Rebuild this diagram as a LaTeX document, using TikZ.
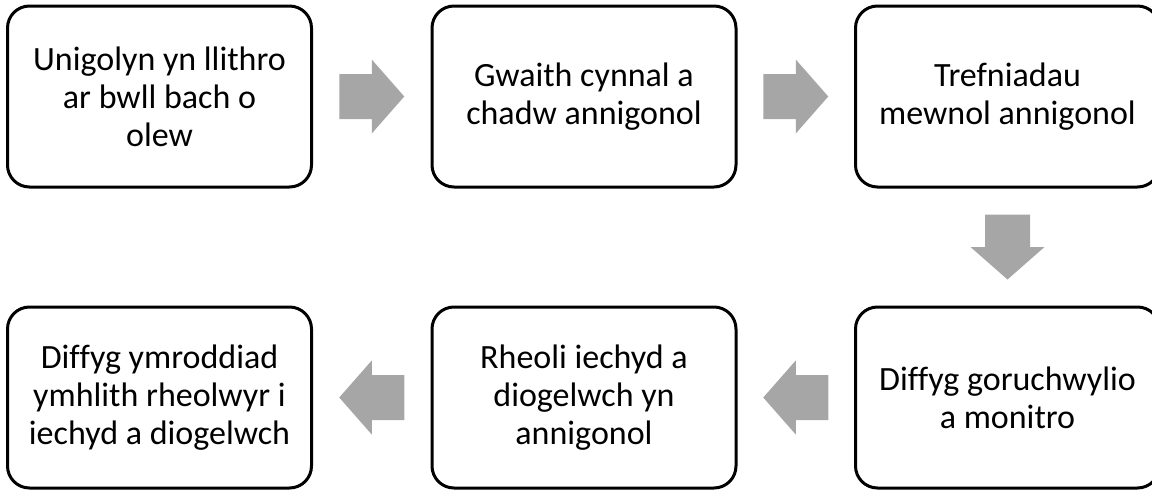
\documentclass[tikz,border=0pt]{standalone}
\usepackage{fontspec}
\setmainfont{Carlito}[Ligatures=NoCommon]
\usetikzlibrary{calc}
\definecolor{arrowgray}{HTML}{A6A6A6}
\tikzset{
  stepbox/.style={draw=black, line width=3pt, rounded corners=22pt, fill=white,
    minimum width=304pt, minimum height=181pt, inner sep=0pt, align=center,
    font=\fontsize{34}{38}\selectfont, text=black},
  garrow/.pic={\fill[arrowgray] (-32.5,-22.5) -- (0,-22.5) -- (0,-37) -- (32.5,0) -- (0,37) -- (0,22.5) -- (-32.5,22.5) -- cycle;}
}
\begin{document}
\begin{tikzpicture}[x=1pt, y=-1pt]
\useasboundingbox (0,0) rectangle (1152,490);
\node[stepbox] (b1) at (159.5,96.5) {Unigolyn yn llithro\\ar bwll bach o\\olew};
\node[stepbox] (b2) at (584,96.5) {Gwaith cynnal a\\chadw annigonol};
\node[stepbox] (b3) at (1007.5,96.5) {Trefniadau\\mewnol annigonol};
\node[stepbox] (b4) at (1007.5,397.5) {Diffyg goruchwylio\\a monitro};
\node[stepbox] (b5) at (584,397.5) {Rheoli iechyd a\\diogelwch yn\\annigonol};
\node[stepbox] (b6) at (159.5,397.5) {Diffyg ymroddiad\\ymhlith rheolwyr i\\iechyd a diogelwch};
\pic at ($(b1.east)!0.5!(b2.west)$) {garrow};
\pic at ($(b2.east)!0.5!(b3.west)$) {garrow};
\pic[rotate=-90] at ($(b3.south)!0.5!(b4.north)$) {garrow};
\pic[rotate=180] at ($(b4.west)!0.5!(b5.east)$) {garrow};
\pic[rotate=180] at ($(b5.west)!0.5!(b6.east)$) {garrow};
\end{tikzpicture}
\end{document}
